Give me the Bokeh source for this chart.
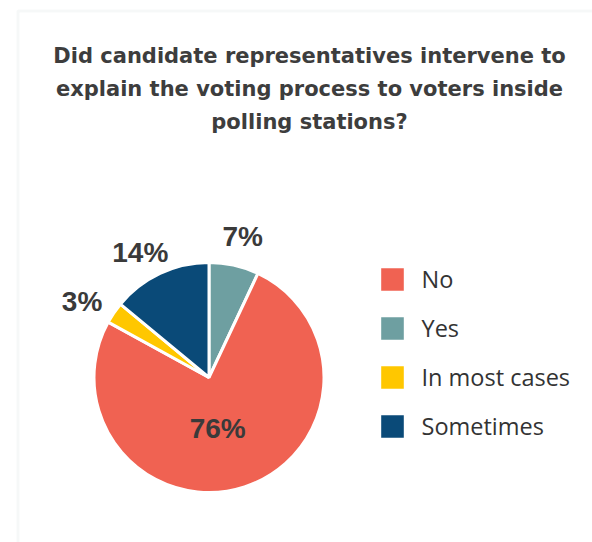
import math
from bokeh.plotting import figure
from bokeh.models import Range1d, ColumnDataSource, Legend, LegendItem, Label, BoxAnnotation
from bokeh.core.properties import value
from bokeh.embed import file_html
from bokeh.resources import INLINE

# ---- data ----
categories = ["Yes", "No", "In most cases", "Sometimes"]   # clockwise from 12 o'clock
values = [7, 76, 3, 14]
colors = ["#6E9FA1", "#F06252", "#FFC700", "#0A4A78"]
legend_order = ["No", "Yes", "In most cases", "Sometimes"]
title_lines = [
    "Did candidate representatives intervene to",
    "explain the voting process to voters inside",
    "polling stations?",
]

# ---- layout tweaks for label placement (pixels) ----
label_radius = [145, 54, 145, 145]
label_nudge_x = [2, -8, -7, -7]
label_nudge_y = [-1, 0, -6, -6]

W, H = 592, 542
p = figure(width=W, height=H, output_backend="svg", toolbar_location=None,
           x_range=Range1d(0, W), y_range=Range1d(0, H),
           min_border=0, outline_line_color=None)
p.axis.visible = False
p.grid.visible = False

# panel frame
p.add_layout(BoxAnnotation(left=17.5, right=W + 20, top=H - 10.5, bottom=-20,
                           fill_alpha=0, line_color="#E2E9E9", line_width=3))

# title
for i, t in enumerate(title_lines):
    p.add_layout(Label(x=309, y=487 - 33 * i, text=t, text_align="center",
                       text_baseline="alphabetic", text_font="DejaVu Sans",
                       text_font_style="bold", text_font_size="21px",
                       text_color="#3D3D3D"))

# pie
cx, cy, r = 208.5, 165, 115
total = float(sum(values))
starts, ends, lx, ly, labels = [], [], [], [], []
cum = 0.0
for i, v in enumerate(values):
    a0 = math.pi / 2 - 2 * math.pi * cum / total
    a1 = math.pi / 2 - 2 * math.pi * (cum + v) / total
    starts.append(a0)
    ends.append(a1)
    mid = (a0 + a1) / 2
    rl = label_radius[i]
    lx.append(cx + rl * math.cos(mid) + label_nudge_x[i])
    ly.append(cy + rl * math.sin(mid) + label_nudge_y[i])
    labels.append(f"{v}%")
    cum += v

src = ColumnDataSource(dict(cat=categories, val=values, color=colors,
                            start=starts, end=ends, lx=lx, ly=ly, lab=labels))
renderers = {}
for i, c in enumerate(categories):
    rr = p.wedge(x=cx, y=cy, radius=r, start_angle=starts[i], end_angle=ends[i],
                 direction="clock", fill_color=colors[i], line_color="white",
                 line_width=3)
    renderers[c] = rr

p.text(x="lx", y="ly", text="lab", source=src, text_align="center",
       text_baseline="middle", text_font=value("Liberation Sans"),
       text_font_style="bold", text_font_size="28px", text_color="#3A3A3A")

items = [LegendItem(label=c, renderers=[renderers[c]]) for c in legend_order]
legend = Legend(items=items, location=(375.5, 100.5), orientation="vertical",
                glyph_width=32, glyph_height=32, spacing=17, label_standoff=14,
                padding=0, margin=0, border_line_color=None,
                background_fill_alpha=0, label_text_font="Open Sans",
                label_text_font_size="23.5px", label_text_color="#333333",
                label_height=32)
p.add_layout(legend)

open("out.html", "w").write(file_html(p, INLINE))
